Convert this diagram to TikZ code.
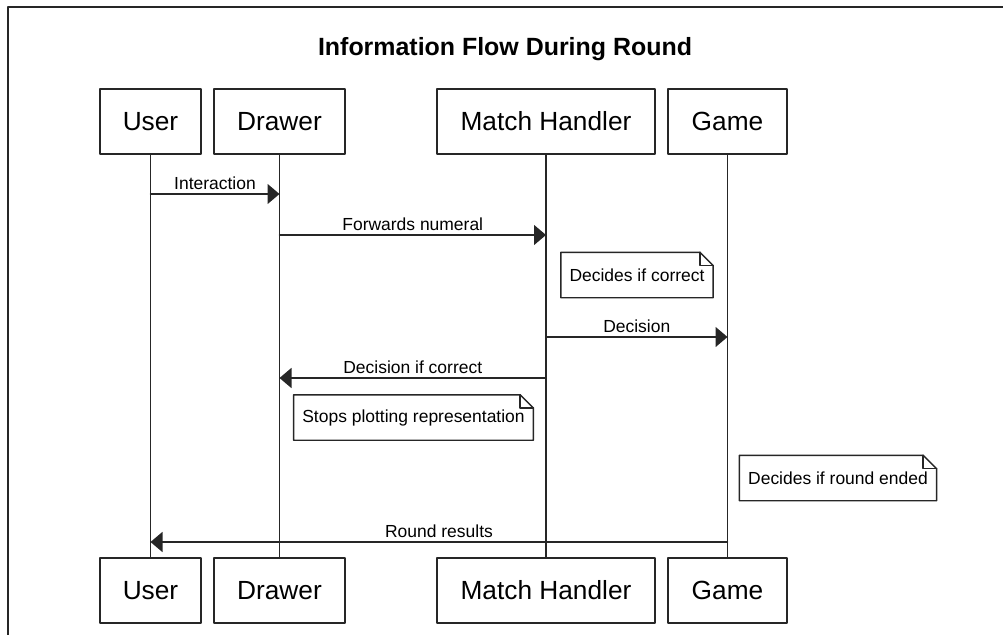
\documentclass[tikz,border=0pt]{standalone}
\usepackage{fontspec}
\setmainfont{Liberation Sans}
\usetikzlibrary{arrows.meta,calc,positioning}
\tikzset{
  actor/.style={rectangle, draw, minimum height=48.75pt, inner sep=0pt, font=\fontsize{19.7}{23}\selectfont},
  note/.style={inner xsep=6pt, inner ysep=0pt, minimum height=33pt, font=\fontsize{13.1}{16}\selectfont},
  msg/.style={-{Triangle[length=9pt,width=15pt]}},
  lbl/.style={midway, above, inner sep=3pt, font=\fontsize{13.1}{16}\selectfont},
  every picture/.style={line cap=round, line join=round}
}
% note box with a folded top right corner
\newcommand{\dogear}[1]{%
  \draw (#1.south west) -- (#1.south east) -- ([yshift=-10pt]#1.north east)
    -- ([xshift=-10pt]#1.north east) -- (#1.north west) -- cycle;
  \draw ([xshift=-10pt]#1.north east) |- ([yshift=-10pt]#1.north east);
}

\begin{document}
\begin{tikzpicture}[x=0.75pt, y=-0.75pt, line width=1.1pt, draw=black!85]
    \useasboundingbox (0,0) rectangle (1003,635);
    \draw[line width=1.5pt] (8,635) -- (8,7) -- (1003,7);

    \node[font=\bfseries\fontsize{18.7}{22}\selectfont] (title) at (505,49) {Information Flow During Round};

    \node[actor, minimum width=75.75pt] (U1) at (150.5,121.5) {User};
    \node[actor, minimum width=98.25pt] (D1) at (279.5,121.5) {Drawer};
    \node[actor, minimum width=163.5pt] (M1) at (546,121.5) {Match Handler};
    \node[actor, minimum width=89.25pt] (G1) at (727.5,121.5) {Game};

    \node[actor, minimum width=75.75pt] (U2) at (150.5,590.5) {User};
    \node[actor, minimum width=98.25pt] (D2) at (279.5,590.5) {Drawer};
    \node[actor, minimum width=163.5pt] (M2) at (546,590.5) {Match Handler};
    \node[actor, minimum width=89.25pt] (G2) at (727.5,590.5) {Game};

    % lifelines
    \draw (U1) -- (U2);
    \draw (D1) -- (D2);
    \draw (M1) -- (M2);
    \draw (G1) -- (G2);

    % message heights
    \coordinate (m1) at (0,194);
    \coordinate (m2) at (0,235);
    \coordinate (m3) at (0,337);
    \coordinate (m4) at (0,378);
    \coordinate (m5) at (0,542);

    \draw[msg] (U1 |- m1) -- node[lbl] {Interaction} (D1 |- m1);
    \draw[msg] (D1 |- m2) -- node[lbl] {Forwards numeral} (M1 |- m2);
    \draw[msg] (M1 |- m3) -- node[lbl] {Decision} (G1 |- m3);
    \draw[msg] (M1 |- m4) -- node[lbl] {Decision if correct} (D1 |- m4);
    \draw[msg] (G1 |- m5) -- node[lbl] {Round results} (U1 |- m5);

    % notes
    \node[note] (n1) at (637,275) {Decides if correct};
    \node[note] (n2) at (413.5,417.5) {Stops plotting representation};
    \node[note] (n3) at (838,478) {Decides if round ended};
    \dogear{n1}
    \dogear{n2}
    \dogear{n3}
\end{tikzpicture}
\end{document}
